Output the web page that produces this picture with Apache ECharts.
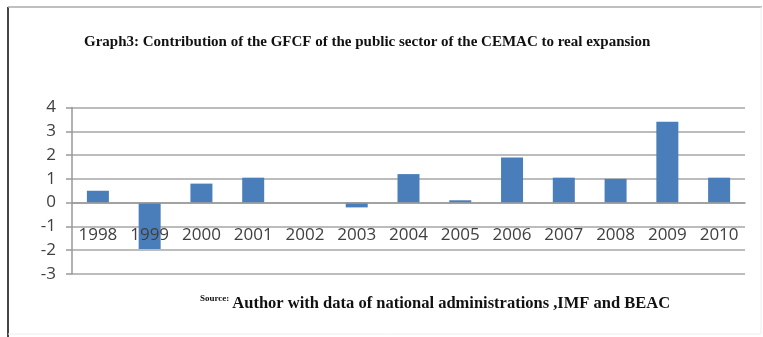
<!DOCTYPE html>
<html>
<head>
<meta charset="utf-8">
<script src="https://cdn.jsdelivr.net/npm/echarts@6/dist/echarts.min.js"></script>
<style>html,body{margin:0;padding:0;background:#fff}#c{width:763px;height:337px}</style>
</head>
<body>
<div id="c"></div>
<script>
const categories = ['1998','1999','2000','2001','2002','2003','2004','2005','2006','2007','2008','2009','2010'];
const values = [0.5, -1.95, 0.8, 1.05, 0, -0.2, 1.2, 0.1, 1.9, 1.05, 1.0, 3.4, 1.05];
const yMin = -3, yMax = 4, yStep = 1;
const titleText = 'Graph3: Contribution of the GFCF of the public sector of the CEMAC to real expansion';
const sourceLabel = 'Source:';
const sourceText = 'Author with data of national administrations ,IMF and BEAC';

const chart = echarts.init(document.getElementById('c'));
chart.setOption({
  animation: false,
  backgroundColor: '#ffffff',
  title: [{
    text: titleText,
    left: 79, top: 30,
    textStyle: {fontFamily: 'Liberation Serif', fontSize: 15, fontWeight: 'bold', color: '#111'}
  }, {
    text: '{s|' + sourceLabel + '}{m|' + sourceText + '}',
    left: 195, top: 289,
    textStyle: {
      rich: {
        s: {fontFamily: 'Liberation Serif', fontSize: 9, fontWeight: 'bold', color: '#111', verticalAlign: 'top', padding: [0,3,11,0]},
        m: {fontFamily: 'Liberation Serif', fontSize: 16.5, fontWeight: 'bold', color: '#111'}
      }
    }
  }],
  graphic: [
    {type: 'line', shape: {x1: 8, y1: 7, x2: 8, y2: 337}, style: {stroke: '#444', lineWidth: 2}},
    {type: 'line', shape: {x1: 8, y1: 7, x2: 762, y2: 7}, style: {stroke: '#aaa', lineWidth: 1.5}},
    {type: 'line', shape: {x1: 761, y1: 7, x2: 761, y2: 334}, style: {stroke: '#eee', lineWidth: 1}},
    {type: 'line', shape: {x1: 8, y1: 334, x2: 761, y2: 334}, style: {stroke: '#eee', lineWidth: 1}}
  ],
  grid: {left: 72, right: 18, top: 107.5, bottom: 63, containLabel: false},
  xAxis: {
    type: 'category',
    data: categories,
    z: 5,
    axisLine: {onZero: true, lineStyle: {color: '#999', width: 1.5}},
    axisTick: {show: false},
    axisLabel: {margin: -47, fontFamily: 'Open Sans', fontSize: 17, color: '#404040'}
  },
  yAxis: {
    type: 'value',
    min: yMin, max: yMax, interval: yStep,
    axisLine: {show: true, lineStyle: {color: '#999', width: 1.5}},
    axisTick: {show: true, length: 6, lineStyle: {color: '#999', width: 1.5}},
    splitLine: {lineStyle: {color: '#a6a6a6', width: 1.5}},
    axisLabel: {margin: 16, fontFamily: 'Open Sans', fontSize: 17, color: '#404040'}
  },
  series: [{
    type: 'bar',
    data: values,
    barWidth: 22,
    itemStyle: {color: '#4a7ebb'}
  }]
});
</script>
</body>
</html>
